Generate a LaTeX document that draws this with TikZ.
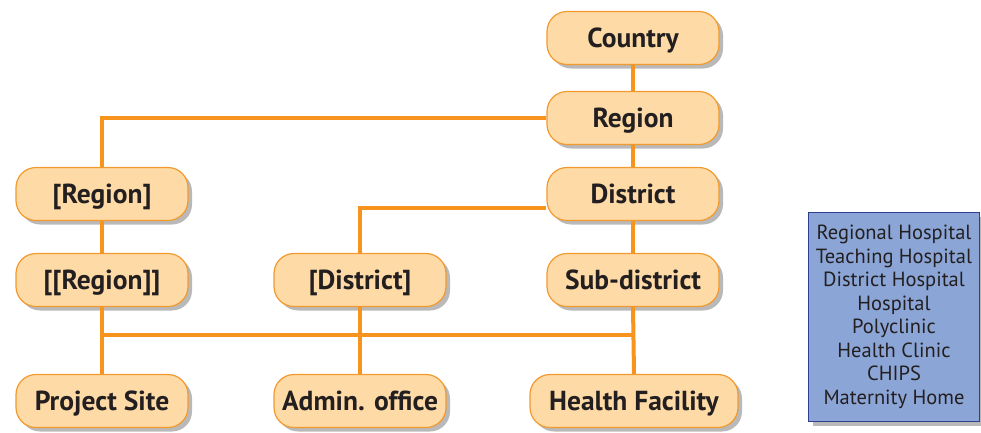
\documentclass[tikz,border=0pt]{standalone}
\usepackage{fontspec}
\setmainfont{PT Sans}
\usepackage{xcolor}
\usepackage{tikz}
\usetikzlibrary{shadows,calc}
\definecolor{LinkOrange}{HTML}{F7941D}
\definecolor{UnitFill}  {HTML}{FDDAA6}
\definecolor{UnitEdge}  {HTML}{F39A2E}
\definecolor{TypeFill}  {HTML}{8BA5D6}
\definecolor{TypeEdge}  {HTML}{2E3F8F}
\definecolor{Ink}       {HTML}{231F20}

\begin{document}
\begin{tikzpicture}[x=1pt, y=-1pt,
  unit/.style={draw=UnitEdge, line width=1.2pt, fill=UnitFill, rounded corners=20pt,
    minimum height=53pt, minimum width=172pt, text=Ink,
    text height=19pt, text depth=0pt,
    font=\fontsize{27.5}{30}\selectfont\bfseries,
    drop shadow={shadow xshift=4pt, shadow yshift=-4pt, fill=black!50, opacity=0.55}},
  link/.style={draw=LinkOrange, line width=4pt}]

  \useasboundingbox (0,0) rectangle (981,432);

  % ===== TOP CHAIN =====
  \node[unit] (country)  at (633,38)  {Country};
  \node[unit] (region)   at (633,118) {Region};
  \node[unit] (district) at (633,194) {District};
  \node[unit] (subdist)  at (633,280) {Sub-district};

  % ===== SIDE UNITS =====
  \node[unit] (regA)  at (102,194) {[Region]};
  \node[unit] (regB)  at (102,280) {[[Region]]};
  \node[unit] (distA) at (360,280) {[District]};

  % ===== SITES =====
  \node[unit] (site)     at (102,401) {Project Site};
  \node[unit] (admin)    at (360,401) {Admin. office};
  \node[unit, minimum width=208pt] (facility) at (634,401) {Health Facility};

  % ===== FACILITY TYPES =====
  \node[draw=TypeEdge, line width=1.6pt, fill=TypeFill, text=Ink, align=center,
        minimum width=171pt, minimum height=209pt, inner sep=0pt,
        font=\fontsize{20.5}{23.5}\selectfont,
        drop shadow={shadow xshift=4pt, shadow yshift=-4pt, fill=black!50, opacity=0.55}]
        (types) at (894,317)
        {Regional Hospital\\Teaching Hospital\\District Hospital\\Hospital\\Polyclinic\\Health Clinic\\CHIPS\\Maternity Home};

  % ===== LINKS =====
  \coordinate (dtap) at ($(district.west)+(0,14)$);
  \coordinate (bus)  at (0,335);
  \draw[link] (country) -- (region);
  \draw[link] (region) -- (district);
  \draw[link] (district) -- (subdist);
  \draw[link] (region.west) -| (regA.north);
  \draw[link] (regA) -- (regB);
  \draw[link] (dtap) -| (distA.north);
  \draw[link] (regB.south) -- (site.north);
  \draw[link] (distA.south) -- (admin.north);
  \draw[link] (subdist.south) -- (facility.north);
  \draw[link] (regB.south |- bus) -- (subdist.south |- bus);

\end{tikzpicture}
\end{document}
